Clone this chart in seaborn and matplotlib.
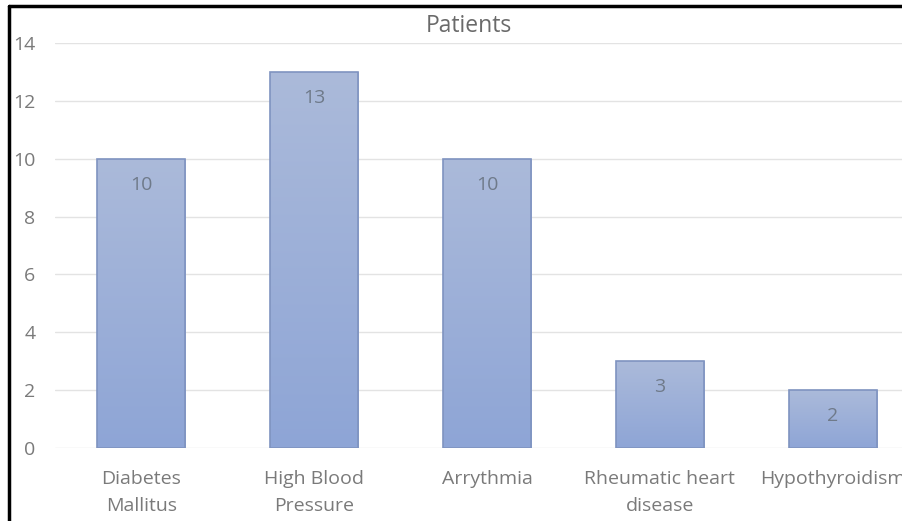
import numpy as np
import pandas as pd
import matplotlib
matplotlib.use("Agg")
import matplotlib.pyplot as plt
import seaborn as sns
from matplotlib.colors import LinearSegmentedColormap

categories = ["Diabetes\nMallitus", "High Blood\nPressure", "Arrythmia",
              "Rheumatic heart\ndisease", "Hypothyroidism"]
patients = [10, 13, 10, 3, 2]
y_ticks = [0, 2, 4, 6, 8, 10, 12, 14]
title = "Patients"

df = pd.DataFrame({"condition": categories, "patients": patients})

sns.set_theme(style="white")
plt.rcParams["font.family"] = ["Open Sans", "DejaVu Sans"]

W, H = 903, 521
fig = plt.figure(figsize=(W / 100, H / 100), dpi=100)
fig.patch.set_facecolor("white")

# plot area: x from 55px to 919px (runs past the right edge), y from 448px to 43px
left, right = 55, 919
bottom, top = 448, 43
ax = fig.add_axes([left / W, (H - bottom) / H, (right - left) / W, (bottom - top) / H])

sns.barplot(data=df, x="condition", y="patients", ax=ax, width=0.51,
            color="#9fb2da", edgecolor="#7f93c0", linewidth=1.2, zorder=3)

ax.set_ylim(0, 14)
ax.set_xlim(-0.5, 4.5)
ax.set_yticks(y_ticks)
ax.set_xlabel("")
ax.set_ylabel("")
for s in ax.spines.values():
    s.set_visible(False)
ax.yaxis.grid(True, color="#e3e3e3", linewidth=1.0, zorder=0)
ax.set_axisbelow(True)
ax.tick_params(axis="y", length=0, pad=14, labelsize=14, labelcolor="#7a7a7a")
ax.tick_params(axis="x", length=0, pad=16, labelsize=14, labelcolor="#7a7a7a")
for lbl in ax.get_xticklabels():
    lbl.set_linespacing(1.6)

# vertical gradient fill on each bar, lighter at the top
cmap = LinearSegmentedColormap.from_list("barfade", ["#8ea5d6", "#abbada"])
grad = np.linspace(0, 1, 256).reshape(-1, 1)
for patch, val in zip(ax.patches, patients):
    x0 = patch.get_x()
    w = patch.get_width()
    im = ax.imshow(grad, cmap=cmap, origin="lower", aspect="auto",
                   extent=(x0, x0 + w, 0, val), zorder=3.5)
    im.set_clip_path(patch)
    patch.set_facecolor("none")
    patch.set_zorder(4)
    ax.text(x0 + w / 2, val - 0.9, f"{val}", ha="center", va="center",
            fontsize=14, color="#6f7a8a", zorder=5)
ax.set_xlim(-0.5, 4.5)
ax.set_ylim(0, 14)

fig.text(469 / W, 1 - 26 / H, title, ha="center", va="center",
         fontsize=16.5, color="#6a6a6a")

# frame line along the left and top edges of the image
fig.add_artist(plt.Line2D([9 / W, 9 / W], [0, 1 - 6 / H], color="black",
                          linewidth=2.5, transform=fig.transFigure))
fig.add_artist(plt.Line2D([9 / W, 1], [1 - 6 / H, 1 - 6 / H], color="black",
                          linewidth=2.5, transform=fig.transFigure))

fig.savefig("out.png", dpi=100)
